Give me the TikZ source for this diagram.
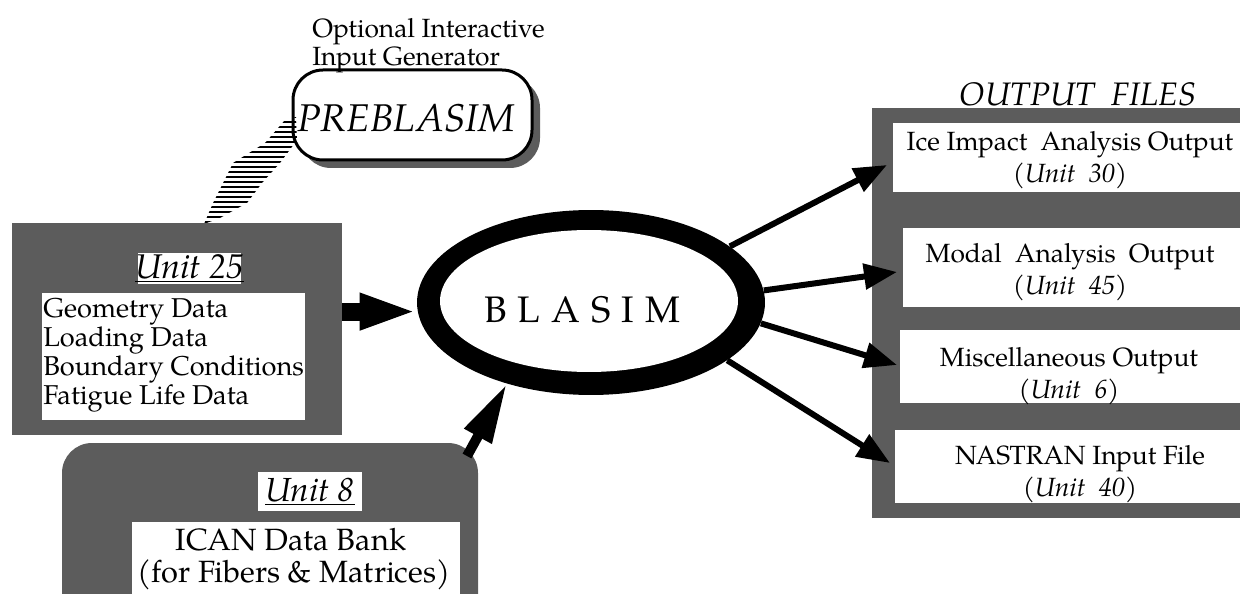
\documentclass[tikz,border=0pt]{standalone}
\usepackage{fontspec}
\setmainfont{texgyrepagella}[Extension=.otf, UprightFont=*-regular, ItalicFont=*-italic, BoldFont=*-bold, BoldItalicFont=*-bolditalic]
\usetikzlibrary{arrows.meta,shapes.geometric,fit}
\definecolor{stip}{gray}{0.36}
\begin{document}
\begin{tikzpicture}[x=0.02cm,y=-0.02cm,
  stipbox/.style={fill=stip, draw=none, inner sep=0pt},
  whitebox/.style={fill=white, draw=none, inner sep=0pt},
  outarrow/.style={line width=0.12cm, -{Triangle[length=0.66cm,width=0.5cm]}},
  bigarrow/.style={line width=0.36cm, -{Triangle[length=1.16cm,width=0.66cm]}},
  midarrow/.style={line width=0.2cm, -{Triangle[length=1.2cm,width=0.58cm]}},
  lbl/.style={inner sep=1pt, align=center},
  txt15/.style={font=\fontsize{15}{18.5}\selectfont},
]
\useasboundingbox (0,0) rectangle (1240,594);
\clip (0,0) rectangle (1240,594);

% ---------- PREBLASIM ----------
\path[fill=stip, rounded corners=0.6cm] (301,78) rectangle (540,168);
\node[draw, line width=0.06cm, fill=white, rounded corners=0.6cm, inner sep=0pt, fit={(293,70)(532,160)}] (pre) {};
\node[inner sep=0pt, font=\fontsize{22}{22}\selectfont\itshape] (pretxt) at (406,118) {PREBLASIM};
\node[inner sep=0pt, align=left, anchor=north west, font=\fontsize{15}{13.8}\selectfont] (opt) at (312,18) {Optional Interactive\\Input Generator};

% hatched link
\begin{scope}
\clip (285,120) -- (296,117) -- (297,140) -- (280,163) -- (262,183) -- (247,203) -- (220,218) -- (204,224) -- (213,203) -- (223,183) -- (233,163) -- (265,143) -- cycle;
\foreach \yy in {117,122,...,227} \draw[line width=0.055cm] (190,\yy) -- (310,\yy);
\end{scope}

% ---------- Unit 25 ----------
\node[stipbox, fit={(12,223)(342,435)}] (u25) {};
\node[whitebox, fit={(42,293)(305,420)}] (u25in) {};
\node[whitebox, fit={(138,253)(241,284)}] (u25lab) {};
\node[inner sep=0pt, font=\fontsize{19.5}{19.5}\selectfont] at (u25lab) {\underline{\textit{Unit 25}}};
\node[inner sep=0pt, anchor=north west, align=left, font=\fontsize{15.5}{16.4}\selectfont] (u25txt) at (43,298)
  {Geometry Data\\Loading Data\\Boundary Conditions\\Fatigue Life Data};

% ---------- Unit 8 ----------
\node[stipbox, rounded corners=0.6cm, fit={(62,443)(478,640)}] (u8) {};
\node[whitebox, fit={(132,522)(460,640)}] (u8in) {};
\node[whitebox, fit={(258,472)(362,511)}] (u8lab) {};
\node[inner sep=0pt, font=\fontsize{19}{19}\selectfont] at (u8lab) {\underline{\textit{Unit 8}}};
\node[inner sep=0pt, font=\fontsize{17.5}{17.5}\selectfont] (ican1) at (291,540) {ICAN Data Bank};
\node[inner sep=0pt, font=\fontsize{17.5}{17.5}\selectfont] (ican2) at (294,575) {(for Fibers \& Matrices)};

% ---------- BLASIM ----------
\node[ellipse, fill=black, inner sep=0pt, minimum width=6.96cm, minimum height=3.7cm] (blasim) at (591,302.5) {};
\node[ellipse, fill=white, inner sep=0pt, minimum width=5.96cm, minimum height=2.84cm] (blasimin) at (589,301) {};
\node[inner sep=0pt, font=\fontsize{21}{21}\selectfont] (bltxt) at (582,310)
  {B\hspace{0.3em}L\hspace{0.3em}A\hspace{0.3em}S\hspace{0.3em}I\hspace{0.3em}M};

% ---------- Output files ----------
\node[inner sep=0pt, font=\fontsize{18.5}{18.5}\selectfont\itshape] (ofiles) at (1078,94) {OUTPUT\ \ FILES};
\node[stipbox, fit={(872,108)(1250,518)}] (outbox) {};
\node[whitebox, fit={(893,123)(1250,192)}] (o1) {};
\node[whitebox, fit={(903,228)(1250,307)}] (o2) {};
\node[whitebox, fit={(900,330)(1250,403)}] (o3) {};
\node[whitebox, fit={(895,430)(1250,503)}] (o4) {};
\node[lbl, txt15] (o1txt) at (1070,160) {Ice Impact\ \ Analysis Output\\(\textit{Unit\ \ 30})};
\node[lbl, txt15] (o2txt) at (1070,272) {Modal\ \ Analysis\ \ Output\\(\textit{Unit\ \ 45})};
\node[lbl, txt15] (o3txt) at (1069,376) {Miscellaneous Output\\(\textit{Unit\ \ 6})};
\node[lbl, txt15] (o4txt) at (1080,474) {NASTRAN Input File\\(\textit{Unit\ \ 40})};

\coordinate (t1) at (887,165);
\coordinate (t2) at (897,272);
\coordinate (t3) at (897,365);
\coordinate (t4) at (890,463);
\coordinate (s8) at (467,456);

% ---------- connectors ----------
\draw[bigarrow] (u25.east |- blasim.183) -- (blasim.183);
\draw[midarrow] (s8) -- (blasim.224);
\draw[outarrow] (blasim.22) -- (t1);
\draw[outarrow] (blasim.4.8) -- (t2);
\draw[outarrow] (blasim.-7.4) -- (t3);
\draw[outarrow] (blasim.-23) -- (t4);
\end{tikzpicture}
\end{document}
